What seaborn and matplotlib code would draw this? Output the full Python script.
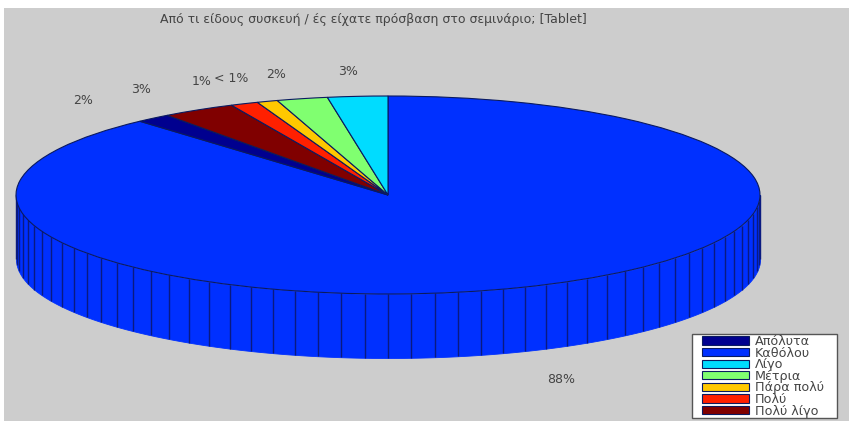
import numpy as np
import matplotlib
matplotlib.use('Agg')
import matplotlib.pyplot as plt
from matplotlib.patches import Rectangle
import seaborn as sns

TITLE = 'Από τι είδους συσκευή / ές είχατε πρόσβαση στο σεμινάριο; [Tablet]'
CATEGORIES = ['Απόλυτα', 'Καθόλου', 'Λίγο', 'Μέτρια', 'Πάρα πολύ', 'Πολύ', 'Πολύ λίγο']
VALUES = [1.5, 88.2, 2.6, 2.2, 0.9, 1.2, 3.2]
PCT_LABELS = ['2%', '88%', '3%', '2%', '< 1%', '1%', '3%']
COLORS = ['#00008f', '#0030ff', '#00dcff', '#80ff70', '#ffc800', '#ff2000', '#800000']
# clockwise from 12 o'clock
CLOCKWISE = [1, 0, 6, 5, 4, 3, 2]

W, H = 849, 421
CX, CY, RX, RY = 388, 195, 372, 99   # top ellipse, in pixels
DEPTH = 64 / RY
FS = 9.0
LEG_FS = 9.2

sns.set_theme(style='white')
plt.rcParams['font.family'] = ['DejaVu Sans']

fig = plt.figure(figsize=(W / 100, H / 100), dpi=100, facecolor='white')
ax = fig.add_axes([4 / W, 0, (W - 4) / W, (H - 8) / H], facecolor='#cdcdcd')

vals = [VALUES[i] for i in CLOCKWISE]
cols = [COLORS[i] for i in CLOCKWISE]
wedges, _ = ax.pie(vals, colors=cols, startangle=90, counterclock=False, radius=1,
                   normalize=True, frame=True,
                   wedgeprops={'edgecolor': '#0a1a60', 'linewidth': 0.8, 'zorder': 3})
ax.set_aspect('auto')
ax.set_xlim((4 - CX) / RX, (W - CX) / RX)
ax.set_ylim((CY - H) / RY, (CY - 8) / RY)
ax.set_xticks([])
ax.set_yticks([])
sns.despine(ax=ax, left=True, bottom=True)

# side wall of the disc, front half only
theta = np.radians(np.linspace(90, 270, 361))
ax.fill_between(np.sin(theta), np.cos(theta), np.cos(theta) - DEPTH,
                color=COLORS[1], linewidth=0.6, zorder=1)
ribs = np.radians(np.arange(90, 270.1, 3.6))
ax.vlines(np.sin(ribs), np.cos(ribs) - DEPTH, np.cos(ribs),
          colors='#0a1a80', linewidth=1.0, zorder=2)

# percentage labels, placed from each slice's mid angle
total = sum(vals)
start = 0
for i, v in zip(CLOCKWISE, vals):
    mid = np.radians((start + v / 2) / total * 360)
    start += v
    x, y = 1.3 * np.sin(mid), 1.3 * np.cos(mid)
    y -= DEPTH if np.cos(mid) < 0 else 5 / RY
    ax.text(x, y, PCT_LABELS[i], ha='center', va='center', fontsize=FS, color='#444444')

fig.text(373 / W, 1 - 19 / H, TITLE, ha='center', va='center', fontsize=FS, color='#444444')

# legend box is its own patch: the original has wide side padding but tight rows
ax.add_patch(Rectangle((692 / W, 1 - 418 / H), 145 / W, 84 / H, transform=fig.transFigure,
                       facecolor='white', edgecolor='#555555', linewidth=1.0, zorder=4.9))
fs_px = LEG_FS * 100 / 72
handles = [wedges[CLOCKWISE.index(i)] for i in range(len(CATEGORIES))]
leg = ax.legend(handles, CATEGORIES, loc='upper left', bbox_to_anchor=(702 / W, 1 - 335 / H),
                bbox_transform=fig.transFigure, borderaxespad=0, borderpad=0, frameon=False,
                fontsize=LEG_FS, handlelength=47 / fs_px, handleheight=0.62,
                labelspacing=-0.11, handletextpad=6 / fs_px)
for t in leg.get_texts():
    t.set_color('#444444')

fig.savefig('out.png', dpi=100, facecolor='white')
